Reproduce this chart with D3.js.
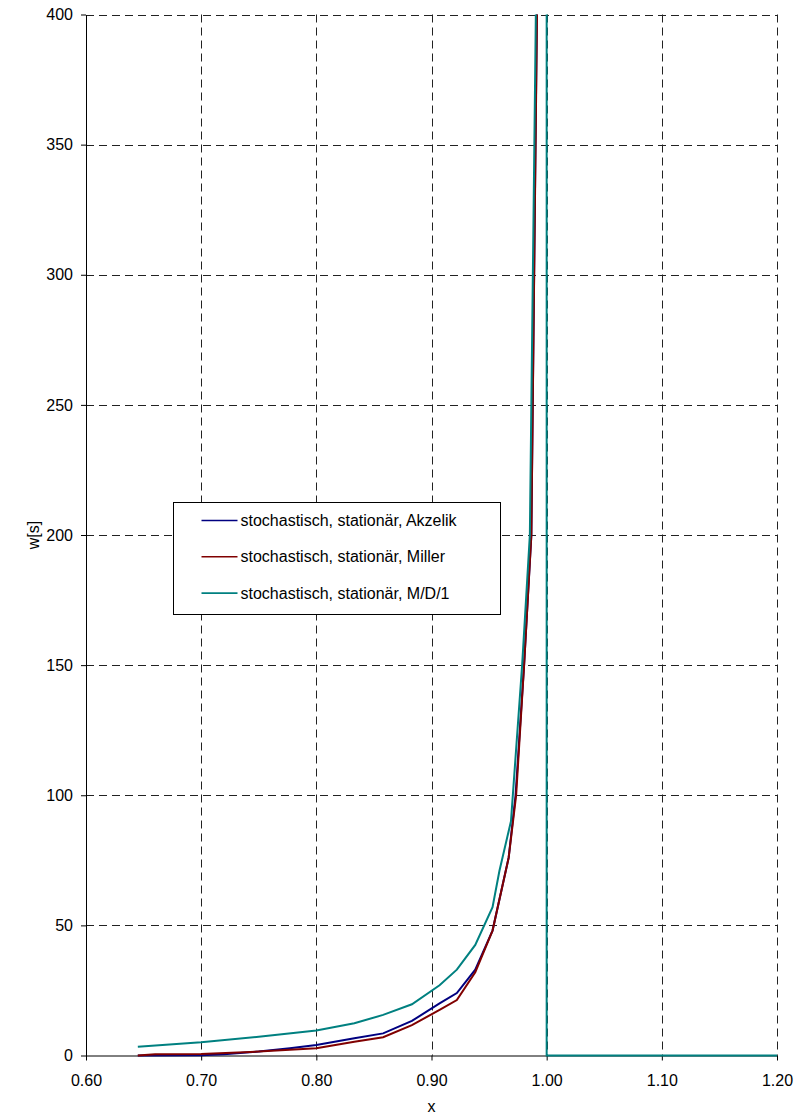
<!DOCTYPE html>
<html>
<head>
<meta charset="utf-8">
<script src="https://cdn.jsdelivr.net/npm/d3@7"></script>
<style>
  html, body { margin: 0; padding: 0; background: #fff; }
  svg { display: block; font-family: "Liberation Sans", Arial, sans-serif; }
</style>
</head>
<body>
<div id="chart"></div>
<script>
// Tick values
const xTicks = [0.60, 0.70, 0.80, 0.90, 1.00, 1.10, 1.20];
const yTicks = [0, 50, 100, 150, 200, 250, 300, 350, 400];

// Series: x = degree of saturation, w = waiting time [s]
const akzelikX = [0.645, 0.70, 0.72, 0.75, 0.777, 0.80, 0.833, 0.858, 0.883, 0.907, 0.922, 0.938, 0.953, 0.967, 0.973, 0.9804, 0.9867, 0.9915, 0.995];
const akzelikW = [0, 0.1, 0.5, 1.5, 2.8, 4.0, 6.6, 8.5, 13.3, 20, 24, 33, 48, 76, 100, 150, 200, 400, 800];

const millerX = [0.645, 0.66, 0.70, 0.75, 0.777, 0.80, 0.833, 0.858, 0.883, 0.907, 0.922, 0.938, 0.953, 0.967, 0.9735, 0.9804, 0.9867, 0.9916, 0.995];
const millerW = [0, 0.5, 0.6, 1.5, 2.2, 2.8, 5.3, 7.0, 11.7, 17.5, 21.3, 32, 48, 76, 100, 150, 200, 400, 800];

const md1X = [0.645, 0.70, 0.75, 0.80, 0.833, 0.858, 0.883, 0.907, 0.922, 0.938, 0.953, 0.959, 0.969, 0.9787, 0.9854, 0.9906, 1.00, 1.00, 1.10, 1.20];
const md1W = [3.4, 5.1, 7.2, 9.6, 12.4, 15.6, 19.7, 27, 33, 42.5, 57, 71, 90, 150, 200, 400, 5000, 0, 0, 0];

const seriesNames = [
	'stochastisch, stationär, Akzelik',
	'stochastisch, stationär, Miller',
	'stochastisch, stationär, M/D/1'
];
const seriesColors = ['#000080', '#800000', '#008080'];

const width = 802;
const height = 1116;
const plot = { left: 86, right: 777, top: 14.5, bottom: 1055.5 };

const xScale = d3.scaleLinear().domain([0.6, 1.2]).range([plot.left, plot.right]);
const yScale = d3.scaleLinear().domain([0, 400]).range([plot.bottom, plot.top]);

const svg = d3
	.select('#chart')
	.append('svg')
	.attr('width', width)
	.attr('height', height);

// Clip region so curves stop at the top of the plot
svg
	.append('defs')
	.append('clipPath')
	.attr('id', 'plot-clip')
	.append('rect')
	.attr('x', plot.left)
	.attr('y', plot.top)
	.attr('width', plot.right - plot.left + 2)
	.attr('height', plot.bottom - plot.top + 2);

// Dashed grid
const grid = svg.append('g').attr('stroke', '#222').attr('stroke-width', 1).attr('stroke-dasharray', '8,5');
grid
	.selectAll('.hgrid')
	.data(yTicks.filter((d) => d > 0))
	.enter()
	.append('line')
	.attr('x1', plot.left)
	.attr('x2', plot.right)
	.attr('y1', (d) => Math.round(yScale(d)) + 0.5)
	.attr('y2', (d) => Math.round(yScale(d)) + 0.5);
grid
	.selectAll('.vgrid')
	.data(xTicks.filter((d) => d > 0.6))
	.enter()
	.append('line')
	.attr('x1', (d) => Math.round(xScale(d)) + 0.5)
	.attr('x2', (d) => Math.round(xScale(d)) + 0.5)
	.attr('y1', plot.top)
	.attr('y2', plot.bottom);

// Axes
const xAxis = d3.axisBottom(xScale).tickValues(xTicks).tickFormat(d3.format('.2f')).tickSize(5).tickSizeOuter(0).tickPadding(14);
const yAxis = d3.axisLeft(yScale).tickValues(yTicks).tickFormat(d3.format('d')).tickSize(5).tickSizeOuter(0).tickPadding(8);

const gx = svg.append('g').attr('transform', `translate(0,${Math.round(plot.bottom) - 0.5})`).call(xAxis);
const gy = svg.append('g').attr('transform', `translate(${plot.left},0)`).call(yAxis);

[gx, gy].forEach((g) => {
	g.attr('font-family', '"Liberation Sans", Arial, sans-serif').attr('font-size', 16);
	g.selectAll('path, line').attr('stroke', '#000');
	g.selectAll('text').attr('fill', '#000');
});

// Axis titles
svg
	.append('text')
	.attr('x', (plot.left + plot.right) / 2)
	.attr('y', 1112)
	.attr('text-anchor', 'middle')
	.attr('font-size', 16)
	.text('x');

svg
	.append('text')
	.attr('transform', `translate(39,${(plot.top + plot.bottom) / 2}) rotate(-90)`)
	.attr('text-anchor', 'middle')
	.attr('font-size', 16)
	.text('w[s]');

// Curves
const series = [
	{ xs: akzelikX, ws: akzelikW },
	{ xs: millerX, ws: millerW },
	{ xs: md1X, ws: md1W }
];

const line = d3
	.line()
	.x((d) => xScale(d[0]))
	.y((d) => yScale(d[1]));

const curves = svg.append('g').attr('clip-path', 'url(#plot-clip)');
series.forEach((s, i) => {
	curves
		.append('path')
		.datum(s.xs.map((x, j) => [x, s.ws[j]]))
		.attr('fill', 'none')
		.attr('stroke', seriesColors[i])
		.attr('stroke-width', 2)
		.attr('d', line);
});

// Legend
const legend = svg.append('g').attr('transform', 'translate(173.5,502.5)');
legend
	.append('rect')
	.attr('width', 327)
	.attr('height', 112)
	.attr('fill', '#fff')
	.attr('stroke', '#000')
	.attr('stroke-width', 1);

seriesNames.forEach((name, i) => {
	const cy = 18 + i * 36.3;
	legend
		.append('line')
		.attr('x1', 28)
		.attr('x2', 64)
		.attr('y1', cy)
		.attr('y2', cy)
		.attr('stroke', seriesColors[i])
		.attr('stroke-width', 1.6);
	legend
		.append('text')
		.attr('x', 67)
		.attr('y', cy)
		.attr('dy', '0.35em')
		.attr('font-size', 16)
		.text(name);
});
</script>
</body>
</html>
